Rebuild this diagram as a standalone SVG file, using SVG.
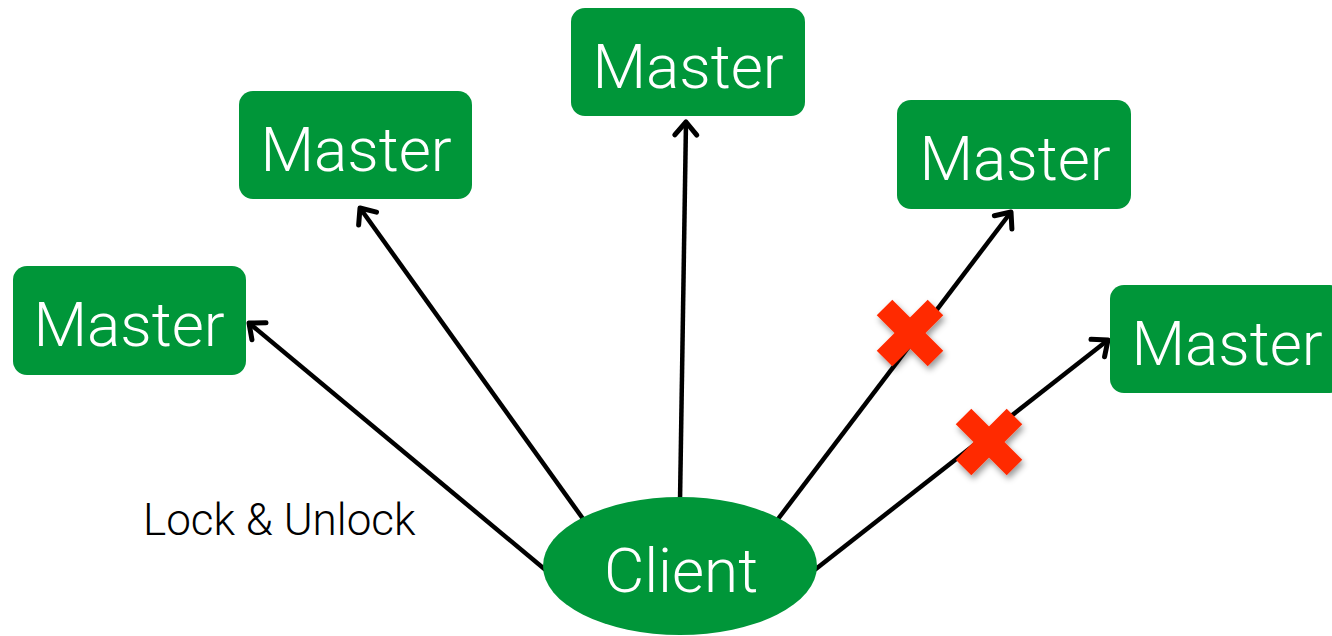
<svg xmlns="http://www.w3.org/2000/svg" width="1332" height="636" viewBox="0 0 1332 636">
<style>
.box{fill:#009639}
.lbl{font-family:Roboto,"Liberation Sans",Arial,sans-serif;font-weight:300;font-size:62px;fill:#fff;text-anchor:middle}
.cap{font-family:Roboto,"Liberation Sans",Arial,sans-serif;font-weight:300;font-size:44px;fill:#000}
.edge{stroke:#000;stroke-width:4.5;fill:none}
.xmark{fill:#ff2a00}
</style>
<defs>
<marker id="arr" markerUnits="userSpaceOnUse" markerWidth="40" markerHeight="40" viewBox="-20 -20 40 40" refX="0" refY="0" orient="auto">
<path d="M-13,-11 L0,0 L-13,11" fill="none" stroke="#000" stroke-width="5" stroke-linecap="round" stroke-linejoin="round"/>
</marker>
<filter id="sh" x="-30%" y="-30%" width="160%" height="160%">
<feDropShadow dx="2" dy="4" stdDeviation="3" flood-color="#000" flood-opacity="0.4"/>
</filter>
<g id="xsym">
<rect x="-36" y="-11" width="72" height="22" transform="rotate(45)"/>
<rect x="-36" y="-11" width="72" height="22" transform="rotate(-45)"/>
</g>
</defs>
<g id="connectors">
<line class="edge" x1="548" y1="572" x2="249" y2="323" marker-end="url(#arr)"/>
<line class="edge" x1="586" y1="523" x2="360" y2="208" marker-end="url(#arr)"/>
<line class="edge" x1="680" y1="502" x2="686" y2="122" marker-end="url(#arr)"/>
<line class="edge" x1="775" y1="523" x2="1011" y2="212" marker-end="url(#arr)"/>
<line class="edge" x1="812" y1="572" x2="1108" y2="340" marker-end="url(#arr)"/>
</g>
<g id="master1"><rect class="box" x="13" y="266" width="233" height="109" rx="14"/><text class="lbl" x="129" y="346">Master</text></g>
<g id="master2"><rect class="box" x="239" y="91" width="233" height="108" rx="14"/><text class="lbl" x="356" y="171">Master</text></g>
<g id="master3"><rect class="box" x="571" y="8" width="234" height="108" rx="14"/><text class="lbl" x="688" y="88">Master</text></g>
<g id="master4"><rect class="box" x="897" y="100" width="234" height="109" rx="14"/><text class="lbl" x="1015" y="180">Master</text></g>
<g id="master5"><rect class="box" x="1110" y="285" width="234" height="108" rx="14"/><text class="lbl" x="1227" y="365">Master</text></g>
<g id="client"><ellipse class="box" cx="680" cy="566" rx="137" ry="69"/><text class="lbl" x="681" y="592">Client</text></g>
<g id="label"><text class="cap" x="143" y="535">Lock &amp; Unlock</text></g>
<g id="fail1" class="xmark" filter="url(#sh)"><use href="#xsym" x="910" y="333"/></g>
<g id="fail2" class="xmark" filter="url(#sh)"><use href="#xsym" x="989" y="442"/></g>
</svg>
